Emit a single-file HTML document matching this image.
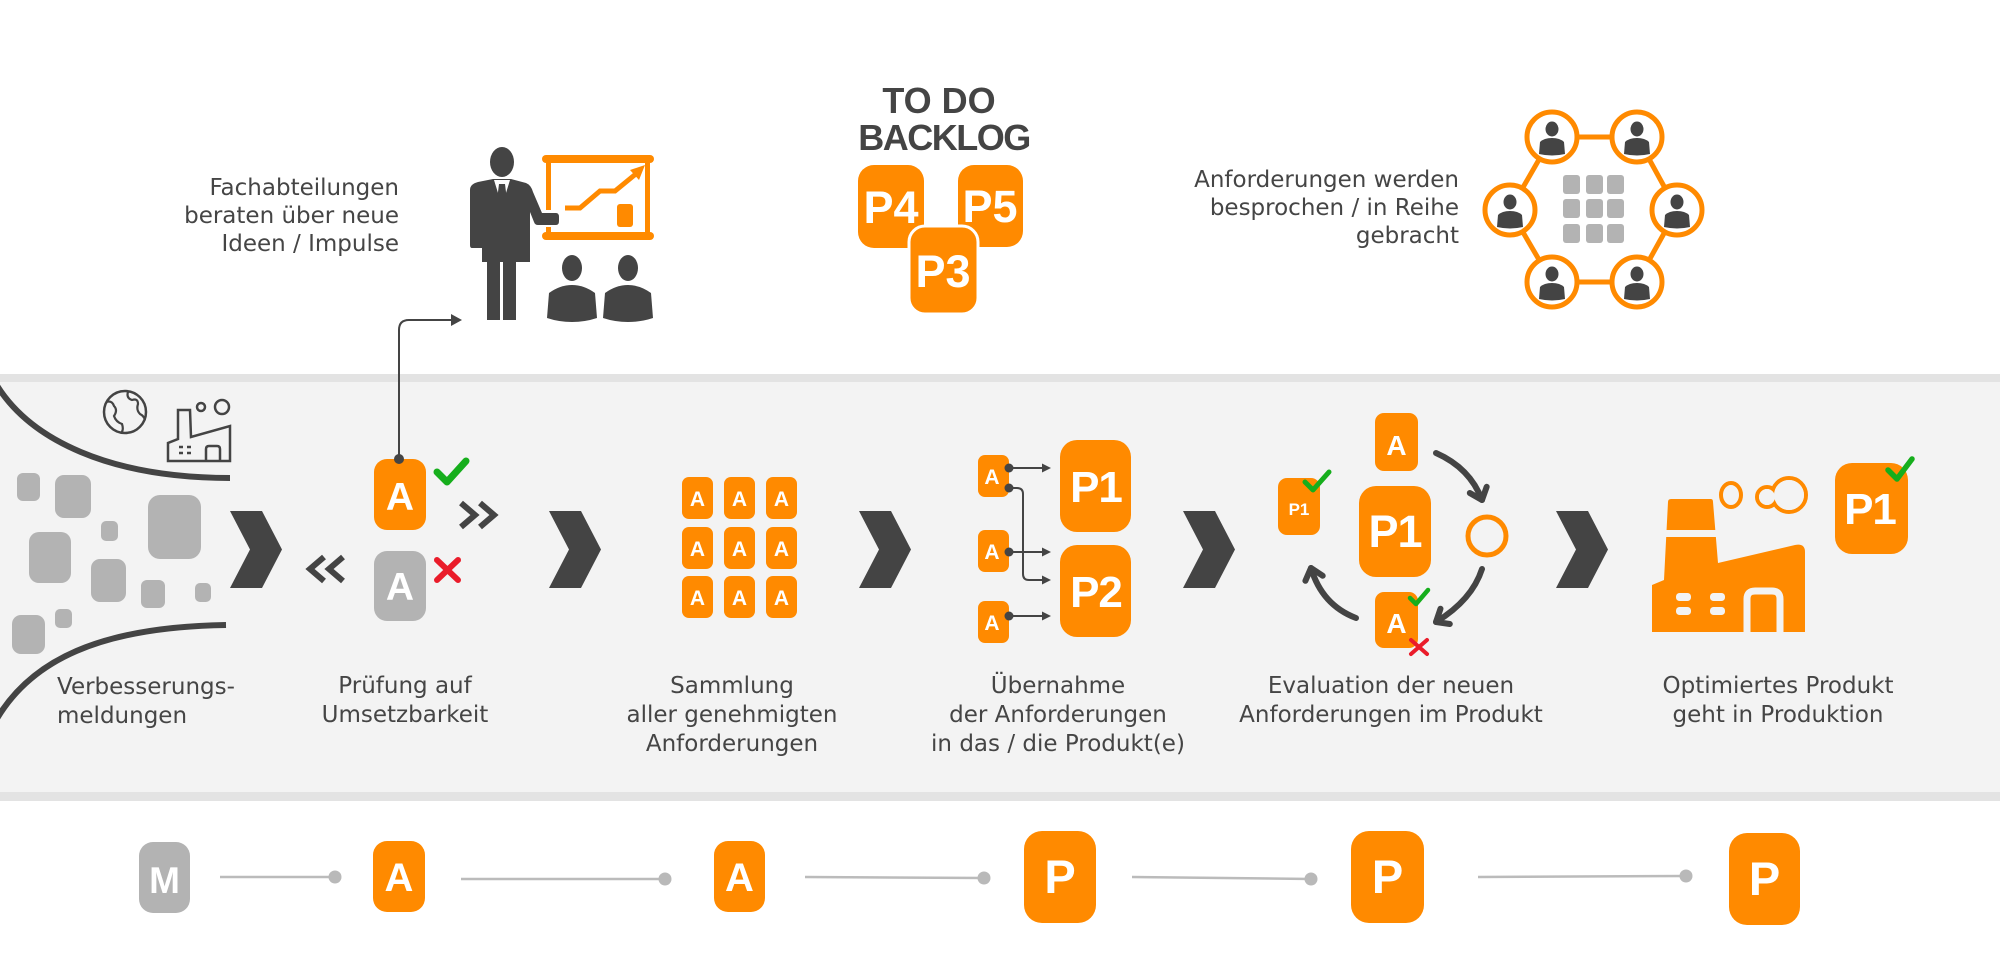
<!DOCTYPE html>
<html><head><meta charset="utf-8"><style>
html,body{margin:0;padding:0;background:#fff;}
svg{display:block;}
.lbl{font-family:"DejaVu Sans","Liberation Sans",sans-serif;font-size:23px;fill:#454545;}
.bx{font-family:"Liberation Sans","DejaVu Sans",sans-serif;font-weight:bold;fill:#fff;text-anchor:middle;}
</style></head><body>
<svg width="2000" height="979" viewBox="0 0 2000 979" xmlns="http://www.w3.org/2000/svg">
<rect width="2000" height="979" fill="#fff"/>
<!-- band -->
<rect x="0" y="374" width="2000" height="8" fill="#e3e3e3"/>
<rect x="0" y="382" width="2000" height="410" fill="#f3f3f3"/>
<rect x="0" y="792" width="2000" height="9" fill="#e3e3e3"/>

<!-- ===== TOP: presenter ===== -->
<text class="lbl" text-anchor="end" x="399" y="195">Fachabteilungen</text>
<text class="lbl" text-anchor="end" x="399" y="223">beraten über neue</text>
<text class="lbl" text-anchor="end" x="399" y="251">Ideen / Impulse</text>

<g fill="#444">
  <ellipse cx="502" cy="162" rx="12" ry="15"/>
  <path d="M470,190 Q470,184 478,182 L493,179 L511,179 L526,183 Q531,185 533,192 L542,213 L556,213 Q559,213 559,217 L559,221 Q559,225 556,225 L538,225 Q535,225 534,222 L530,212 L530,262 L516,262 L516,320 L503,320 L503,262 L500,262 L500,320 L487,320 L487,262 L482,262 L482,248 L472,248 Q470,248 470,245 Z"/>
</g>
<polygon points="494,180 510,180 502,206" fill="#fff"/>
<polygon points="499,184 505,184 507,200 502,207 497,200" fill="#444"/>
<g fill="#ff8a00">
  <rect x="542" y="155" width="112" height="8" rx="4"/>
  <rect x="542" y="232" width="112" height="8" rx="4"/>
  <rect x="546" y="160" width="5" height="50"/>
  <rect x="546" y="227" width="5" height="8"/>
  <rect x="645" y="160" width="5" height="75"/>
  <rect x="617" y="204" width="16" height="23" rx="3"/>
  <polygon points="645,165 630,170 639,180"/>
</g>
<polyline points="565,208 580,208 600,191 615,191 637,173" fill="none" stroke="#ff8a00" stroke-width="5"/>
<g fill="#444">
  <ellipse cx="572" cy="268" rx="10" ry="13"/>
  <path d="M549,293 Q560,285 572,285 Q584,285 595,293 L597,318 Q585,322 572,322 Q559,322 547,318 Z"/>
  <ellipse cx="628" cy="268" rx="10" ry="13"/>
  <path d="M605,293 Q616,285 628,285 Q640,285 651,293 L653,318 Q641,322 628,322 Q615,322 603,318 Z"/>
</g>

<!-- connector from A to presenter -->
<path d="M399,459 L399,330 Q399,320 409,320 L452,320" fill="none" stroke="#444" stroke-width="2"/>
<polygon points="451,314 462,320 451,326" fill="#444"/>

<!-- ===== TOP: backlog ===== -->
<text x="939" y="113" text-anchor="middle" font-family="Liberation Sans, sans-serif" font-weight="bold" font-size="36" fill="#444">TO DO</text>
<text x="944" y="150" text-anchor="middle" font-family="Liberation Sans, sans-serif" font-weight="bold" font-size="36" fill="#444" letter-spacing="-1.5">BACKLOG</text>
<rect x="858" y="165" width="66" height="83" rx="16" fill="#ff8a00"/>
<text class="bx" x="891" y="223" font-size="45">P4</text>
<rect x="958" y="165" width="65" height="82" rx="16" fill="#ff8a00"/>
<text class="bx" x="990" y="222" font-size="45">P5</text>
<rect x="909" y="226" width="69" height="88" rx="16" fill="#ff8a00" stroke="#fff" stroke-width="3"/>
<text class="bx" x="943" y="287" font-size="45">P3</text>

<!-- ===== TOP: network ===== -->
<text class="lbl" text-anchor="end" x="1459" y="187">Anforderungen werden</text>
<text class="lbl" text-anchor="end" x="1459" y="215">besprochen / in Reihe</text>
<text class="lbl" text-anchor="end" x="1459" y="243">gebracht</text>
<polygon points="1552,137 1637,137 1677,210 1637,282 1552,282 1510,210" fill="none" stroke="#ff8a00" stroke-width="5"/>
<g fill="#b3b3b3">
  <rect x="1563" y="175" width="17" height="19" rx="3"/><rect x="1586" y="175" width="17" height="19" rx="3"/><rect x="1607" y="175" width="17" height="19" rx="3"/>
  <rect x="1563" y="199" width="17" height="19" rx="3"/><rect x="1586" y="199" width="17" height="19" rx="3"/><rect x="1607" y="199" width="17" height="19" rx="3"/>
  <rect x="1563" y="224" width="17" height="19" rx="3"/><rect x="1586" y="224" width="17" height="19" rx="3"/><rect x="1607" y="224" width="17" height="19" rx="3"/>
</g>
<g id="nodes">
  <g transform="translate(1552,137)"><circle r="25" fill="#fff" stroke="#ff8a00" stroke-width="5"/><ellipse cx="0" cy="-8" rx="6.5" ry="7.5" fill="#444"/><path d="M-13,17 L-12,5 Q-8,1 0,1 Q8,1 12,5 L13,17 Q0,20 -13,17 Z" fill="#444"/></g>
  <g transform="translate(1637,137)"><circle r="25" fill="#fff" stroke="#ff8a00" stroke-width="5"/><ellipse cx="0" cy="-8" rx="6.5" ry="7.5" fill="#444"/><path d="M-13,17 L-12,5 Q-8,1 0,1 Q8,1 12,5 L13,17 Q0,20 -13,17 Z" fill="#444"/></g>
  <g transform="translate(1510,210)"><circle r="25" fill="#fff" stroke="#ff8a00" stroke-width="5"/><ellipse cx="0" cy="-8" rx="6.5" ry="7.5" fill="#444"/><path d="M-13,17 L-12,5 Q-8,1 0,1 Q8,1 12,5 L13,17 Q0,20 -13,17 Z" fill="#444"/></g>
  <g transform="translate(1677,210)"><circle r="25" fill="#fff" stroke="#ff8a00" stroke-width="5"/><ellipse cx="0" cy="-8" rx="6.5" ry="7.5" fill="#444"/><path d="M-13,17 L-12,5 Q-8,1 0,1 Q8,1 12,5 L13,17 Q0,20 -13,17 Z" fill="#444"/></g>
  <g transform="translate(1552,282)"><circle r="25" fill="#fff" stroke="#ff8a00" stroke-width="5"/><ellipse cx="0" cy="-8" rx="6.5" ry="7.5" fill="#444"/><path d="M-13,17 L-12,5 Q-8,1 0,1 Q8,1 12,5 L13,17 Q0,20 -13,17 Z" fill="#444"/></g>
  <g transform="translate(1637,282)"><circle r="25" fill="#fff" stroke="#ff8a00" stroke-width="5"/><ellipse cx="0" cy="-8" rx="6.5" ry="7.5" fill="#444"/><path d="M-13,17 L-12,5 Q-8,1 0,1 Q8,1 12,5 L13,17 Q0,20 -13,17 Z" fill="#444"/></g>
</g>

<!-- ===== STEP 1 ===== -->
<path d="M-4,384 C30,440 110,478 230,478" fill="none" stroke="#444" stroke-width="6"/>
<path d="M-5,722 C30,660 100,627 226,625" fill="none" stroke="#444" stroke-width="6"/>
<circle cx="125" cy="412" r="21" fill="none" stroke="#444" stroke-width="2.5"/>
<path d="M106,402 Q112,400 114,406 Q118,410 114,416 Q116,422 122,424 Q124,430 121,433 M128,392 Q126,398 132,400 Q138,398 138,404 Q136,410 140,414 Q144,416 145,420" fill="none" stroke="#444" stroke-width="2.2"/>
<g fill="none" stroke="#444" stroke-width="2.5">
  <path d="M168,461 L168,443 L178,439 L178,410 L190,410 L191,437 L230,426 L230,461 Z"/>
  <path d="M206,461 L206,449 Q206,446 209,446 L217,446 Q220,446 220,449 L220,461"/>
  <circle cx="201" cy="407" r="4"/>
  <circle cx="222" cy="407" r="7"/>
</g>
<g stroke="#444" stroke-width="2.5"><path d="M179,447 h4 M187,447 h4 M179,453 h4 M187,453 h4"/></g>
<g fill="#b3b3b3">
  <rect x="17" y="473" width="23" height="28" rx="6"/>
  <rect x="55" y="475" width="36" height="43" rx="9"/>
  <rect x="148" y="495" width="53" height="64" rx="12"/>
  <rect x="101" y="521" width="17" height="20" rx="5"/>
  <rect x="29" y="532" width="42" height="51" rx="10"/>
  <rect x="91" y="559" width="35" height="43" rx="9"/>
  <rect x="141" y="580" width="24" height="28" rx="6"/>
  <rect x="195" y="583" width="16" height="19" rx="5"/>
  <rect x="55" y="609" width="17" height="19" rx="5"/>
  <rect x="12" y="615" width="33" height="39" rx="9"/>
</g>
<text class="lbl" x="57" y="694">Verbesserungs-</text>
<text class="lbl" x="57" y="723">meldungen</text>

<!-- chevrons -->
<g fill="#444">
  <polygon points="230,511 262,511 282,549.5 262,588 230,588 250,549.5"/>
  <polygon points="549,511 581,511 601,549.5 581,588 549,588 569,549.5"/>
  <polygon points="859,511 891,511 911,549.5 891,588 859,588 879,549.5"/>
  <polygon points="1183,511 1215,511 1235,549.5 1215,588 1183,588 1203,549.5"/>
  <polygon points="1556,511 1588,511 1608,549.5 1588,588 1556,588 1576,549.5"/>
</g>

<!-- ===== STEP 2 ===== -->
<rect x="374" y="459" width="52" height="71" rx="13" fill="#ff8a00"/>
<text class="bx" x="400" y="510" font-size="39">A</text>
<circle cx="399" cy="459" r="5" fill="#444"/>
<rect x="374" y="551" width="52" height="70" rx="13" fill="#b3b3b3"/>
<text class="bx" x="400" y="600" font-size="39">A</text>
<path d="M437,472 L447,482 L466,461" fill="none" stroke="#16ae1c" stroke-width="7" stroke-linecap="round" stroke-linejoin="round"/>
<path d="M437,560 L458,580 M458,560 L437,580" fill="none" stroke="#ea1c2a" stroke-width="6" stroke-linecap="round"/>
<g fill="none" stroke="#444" stroke-width="6">
  <path d="M324,557 L310,569 L324,581 M343,557 L329,569 L343,581"/>
  <path d="M461,503 L475,515 L461,527 M480,503 L494,515 L480,527"/>
</g>
<text class="lbl" text-anchor="middle" x="405" y="693">Prüfung auf</text>
<text class="lbl" text-anchor="middle" x="405" y="722">Umsetzbarkeit</text>

<!-- ===== STEP 3 ===== -->
<g fill="#ff8a00">
  <rect x="682" y="477" width="31" height="42" rx="7"/><rect x="724" y="477" width="31" height="42" rx="7"/><rect x="766" y="477" width="31" height="42" rx="7"/>
  <rect x="682" y="527" width="31" height="42" rx="7"/><rect x="724" y="527" width="31" height="42" rx="7"/><rect x="766" y="527" width="31" height="42" rx="7"/>
  <rect x="682" y="576" width="31" height="42" rx="7"/><rect x="724" y="576" width="31" height="42" rx="7"/><rect x="766" y="576" width="31" height="42" rx="7"/>
</g>
<g class="bx" font-size="21">
  <text class="bx" x="697.5" y="506" font-size="21">A</text><text class="bx" x="739.5" y="506" font-size="21">A</text><text class="bx" x="781.5" y="506" font-size="21">A</text>
  <text class="bx" x="697.5" y="556" font-size="21">A</text><text class="bx" x="739.5" y="556" font-size="21">A</text><text class="bx" x="781.5" y="556" font-size="21">A</text>
  <text class="bx" x="697.5" y="605" font-size="21">A</text><text class="bx" x="739.5" y="605" font-size="21">A</text><text class="bx" x="781.5" y="605" font-size="21">A</text>
</g>
<text class="lbl" text-anchor="middle" x="732" y="693">Sammlung</text>
<text class="lbl" text-anchor="middle" x="732" y="722">aller genehmigten</text>
<text class="lbl" text-anchor="middle" x="732" y="751">Anforderungen</text>

<!-- ===== STEP 4 ===== -->
<g fill="#ff8a00">
  <rect x="978" y="455" width="31" height="42" rx="7"/>
  <rect x="978" y="530" width="31" height="42" rx="7"/>
  <rect x="978" y="601" width="31" height="42" rx="7"/>
  <rect x="1060" y="440" width="71" height="92" rx="17"/>
  <rect x="1060" y="545" width="71" height="92" rx="17"/>
</g>
<text class="bx" x="992" y="484" font-size="21">A</text>
<text class="bx" x="992" y="559" font-size="21">A</text>
<text class="bx" x="992" y="630" font-size="21">A</text>
<text class="bx" x="1096" y="502" font-size="44" letter-spacing="-1">P1</text>
<text class="bx" x="1096" y="607" font-size="44" letter-spacing="-1">P2</text>
<g fill="none" stroke="#444" stroke-width="2">
  <path d="M1009,468 L1044,468"/>
  <path d="M1009,488 L1017,488 Q1023,488 1023,494 L1023,574 Q1023,580 1029,580 L1044,580"/>
  <path d="M1009,552 L1044,552"/>
  <path d="M1009,616 L1044,616"/>
</g>
<g fill="#444">
  <circle cx="1009" cy="468" r="4.5"/><circle cx="1009" cy="488" r="4.5"/><circle cx="1009" cy="552" r="4.5"/><circle cx="1009" cy="616" r="4.5"/>
  <polygon points="1042,463.5 1051,468 1042,472.5"/>
  <polygon points="1042,575.5 1051,580 1042,584.5"/>
  <polygon points="1042,547.5 1051,552 1042,556.5"/>
  <polygon points="1042,611.5 1051,616 1042,620.5"/>
</g>
<text class="lbl" text-anchor="middle" x="1058" y="693">Übernahme</text>
<text class="lbl" text-anchor="middle" x="1058" y="722">der Anforderungen</text>
<text class="lbl" text-anchor="middle" x="1058" y="751">in das / die Produkt(e)</text>

<!-- ===== STEP 5 ===== -->
<rect x="1278" y="478" width="42" height="57" rx="9" fill="#ff8a00"/>
<text class="bx" x="1299" y="515" font-size="17">P1</text>
<path d="M1305,482 L1313,490 L1329,472" fill="none" stroke="#16ae1c" stroke-width="5" stroke-linecap="round" stroke-linejoin="round"/>
<rect x="1375" y="413" width="43" height="58" rx="9" fill="#ff8a00"/>
<text class="bx" x="1396.5" y="455" font-size="28">A</text>
<rect x="1359" y="486" width="72" height="91" rx="17" fill="#ff8a00"/>
<text class="bx" x="1395" y="547" font-size="45" letter-spacing="-1">P1</text>
<circle cx="1487" cy="536" r="19" fill="none" stroke="#ff8a00" stroke-width="5"/>
<rect x="1375" y="592" width="43" height="56" rx="9" fill="#ff8a00"/>
<text class="bx" x="1396.5" y="633" font-size="28">A</text>
<path d="M1410,598 L1416,604 L1428,590" fill="none" stroke="#16ae1c" stroke-width="4.5" stroke-linecap="round" stroke-linejoin="round"/>
<path d="M1411,640 L1427,654 M1427,640 L1411,654" fill="none" stroke="#ea1c2a" stroke-width="4" stroke-linecap="round"/>
<g fill="none" stroke="#444" stroke-width="6" stroke-linecap="round" stroke-linejoin="round">
  <path d="M1436,453 Q1470,468 1482,500"/>
  <path d="M1469.8,493 L1482,500 L1486.7,486.8"/>
  <path d="M1482,569 Q1472,600 1436,622"/>
  <path d="M1440.5,608.7 L1436,622 L1449.8,624"/>
  <path d="M1356,618 Q1322,605 1311,568"/>
  <path d="M1305.4,580.8 L1311,568 L1322.7,575.7"/>
</g>
<text class="lbl" text-anchor="middle" x="1391" y="693">Evaluation der neuen</text>
<text class="lbl" text-anchor="middle" x="1391" y="722">Anforderungen im Produkt</text>

<!-- ===== STEP 6 ===== -->
<path d="M1671,499 L1711,499 Q1713,499 1713,502 L1718,563 L1795,545 Q1805,543 1805,552 L1805,632 L1652,632 L1652,585 L1664,580 L1668,502 Q1668,499 1671,499 Z" fill="#ff8a00"/>
<rect x="1660" y="530" width="62" height="7" fill="#f3f3f3"/>
<g fill="#f3f3f3">
  <rect x="1676" y="593" width="15" height="8" rx="3.5"/><rect x="1676" y="607" width="15" height="8" rx="3.5"/>
  <rect x="1710" y="593" width="15" height="8" rx="3.5"/><rect x="1710" y="607" width="15" height="8" rx="3.5"/>
</g>
<path d="M1747,632 L1747,599 Q1747,591 1755,591 L1772,591 Q1780,591 1780,599 L1780,632" fill="none" stroke="#f3f3f3" stroke-width="7"/>
<ellipse cx="1731" cy="495" rx="10" ry="12" fill="none" stroke="#ff8a00" stroke-width="4"/>
<circle cx="1767" cy="497" r="10" fill="none" stroke="#ff8a00" stroke-width="4"/>
<circle cx="1789" cy="495" r="17" fill="none" stroke="#ff8a00" stroke-width="4"/>
<circle cx="1767" cy="497" r="8" fill="#f3f3f3"/>
<circle cx="1789" cy="495" r="15" fill="#f3f3f3"/>
<rect x="1835" y="463" width="73" height="91" rx="17" fill="#ff8a00"/>
<text class="bx" x="1870" y="524" font-size="44" letter-spacing="-1">P1</text>
<path d="M1888,470 L1897,479 L1912,459" fill="none" stroke="#16ae1c" stroke-width="5.5" stroke-linecap="round" stroke-linejoin="round"/>
<text class="lbl" text-anchor="middle" x="1778" y="693">Optimiertes Produkt</text>
<text class="lbl" text-anchor="middle" x="1778" y="722">geht in Produktion</text>

<!-- ===== BOTTOM ROW ===== -->
<g stroke="#bbbbbb" stroke-width="2.5" fill="none">
  <path d="M220,877 L335,877"/>
  <path d="M461,879 L665,879"/>
  <path d="M805,877 L984,878"/>
  <path d="M1132,877 L1311,879"/>
  <path d="M1478,877 L1686,876"/>
</g>
<g fill="#b9b9b9">
  <circle cx="335" cy="877" r="6.5"/><circle cx="665" cy="879" r="6.5"/><circle cx="984" cy="878" r="6.5"/><circle cx="1311" cy="879" r="6.5"/><circle cx="1686" cy="876" r="6.5"/>
</g>
<rect x="139" y="842" width="51" height="71" rx="14" fill="#b3b3b3"/>
<text class="bx" x="164.5" y="893" font-size="37">M</text>
<rect x="373" y="841" width="52" height="71" rx="14" fill="#ff8a00"/>
<text class="bx" x="399" y="891" font-size="40">A</text>
<rect x="714" y="841" width="51" height="71" rx="14" fill="#ff8a00"/>
<text class="bx" x="739.5" y="891" font-size="40">A</text>
<rect x="1024" y="831" width="72" height="92" rx="18" fill="#ff8a00"/>
<text class="bx" x="1060" y="893" font-size="47">P</text>
<rect x="1351" y="831" width="73" height="92" rx="18" fill="#ff8a00"/>
<text class="bx" x="1387.5" y="893" font-size="47">P</text>
<rect x="1729" y="833" width="71" height="92" rx="18" fill="#ff8a00"/>
<text class="bx" x="1764.5" y="895" font-size="47">P</text>
</svg>
</body></html>
